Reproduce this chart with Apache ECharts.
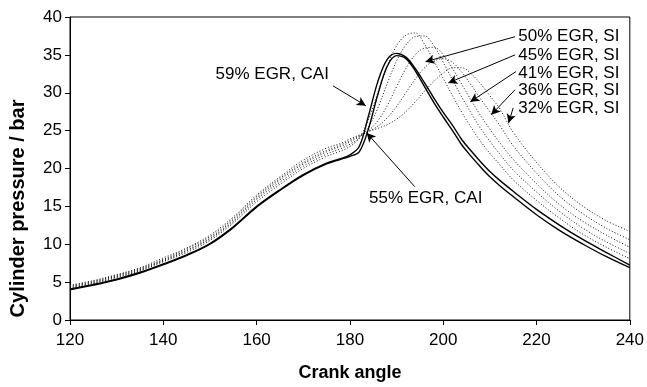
<!DOCTYPE html>
<html>
<head>
<meta charset="utf-8">
<script src="https://cdn.jsdelivr.net/npm/echarts@6/dist/echarts.min.js"></script>
<style>
  html, body { margin: 0; padding: 0; background: #fff; }
  #chart { width: 647px; height: 387px; }
</style>
</head>
<body>
<div id="chart"></div>
<script>
// crank angle (deg) shared by all curves
const angles = [120, 125, 130, 135, 140, 145, 150, 155, 160, 165, 170, 175, 178, 180,
  182, 184, 186, 188, 190, 192, 194, 196, 198, 200, 202, 204, 206, 208, 210, 212,
  215, 220, 225, 230, 235, 240];

// cylinder pressure (bar)
const cai59 = [4.1, 4.7, 5.4, 6.3, 7.4, 8.6, 10.1, 12.3, 15.0, 17.2, 19.2, 20.7, 21.3, 21.8,
  22.9, 27.0, 31.5, 34.4, 35.2, 34.7, 33.2, 31.3, 29.3, 27.4, 25.7, 23.8, 22.3, 20.9, 19.6, 18.5,
  17.0, 14.6, 12.5, 10.6, 8.9, 7.25];
const cai55 = [4.0, 4.6, 5.3, 6.2, 7.3, 8.5, 10.0, 12.2, 14.9, 17.1, 19.1, 20.6, 21.2, 21.6,
  22.2, 25.3, 29.8, 33.5, 34.9, 34.5, 32.9, 30.8, 28.7, 26.8, 25.0, 23.1, 21.6, 20.2, 18.9, 17.8,
  16.3, 13.9, 11.8, 10.0, 8.35, 6.9];
const si50 = [4.2, 4.8, 5.6, 6.5, 7.7, 8.9, 10.5, 12.8, 15.6, 17.9, 20.0, 21.6, 22.3, 22.9,
  24.0, 26.5, 30.0, 33.5, 36.2, 37.6, 37.9, 36.4, 34.2, 31.9, 29.6, 27.4, 25.4, 23.6, 22.0, 20.6,
  18.5, 15.8, 13.4, 11.3, 9.6, 8.1];
const si45 = [4.3, 4.9, 5.7, 6.6, 7.8, 9.1, 10.7, 13.0, 15.9, 18.2, 20.3, 21.9, 22.6, 23.2,
  24.0, 25.5, 28.0, 31.2, 34.2, 36.3, 37.4, 37.5, 36.2, 34.0, 31.7, 29.4, 27.3, 25.3, 23.6, 22.0,
  19.8, 16.9, 14.3, 12.1, 10.3, 8.8];
const si41 = [4.4, 5.0, 5.8, 6.7, 7.9, 9.2, 10.8, 13.2, 16.1, 18.5, 20.6, 22.2, 22.9, 23.5,
  24.2, 25.0, 26.3, 28.3, 30.8, 33.2, 35.0, 35.9, 36.0, 35.0, 33.2, 31.1, 29.0, 27.0, 25.2, 23.5,
  21.2, 18.0, 15.2, 13.0, 11.2, 9.6];
const si36 = [4.5, 5.1, 5.9, 6.8, 8.0, 9.4, 11.0, 13.4, 16.3, 18.7, 20.8, 22.4, 23.1, 23.7,
  24.3, 24.9, 25.6, 26.7, 28.2, 30.0, 31.8, 33.3, 34.2, 34.5, 34.0, 32.7, 31.0, 29.2, 27.5, 25.8,
  23.0, 19.4, 16.3, 14.0, 12.1, 10.6];
const si32 = [4.6, 5.2, 6.0, 6.9, 8.2, 9.5, 11.2, 13.6, 16.5, 18.9, 21.1, 22.7, 23.3, 23.9,
  24.4, 24.9, 25.3, 25.8, 26.5, 27.5, 28.8, 30.2, 31.5, 32.6, 33.3, 33.3, 32.5, 31.2, 29.6, 28.0,
  24.8, 20.8, 17.5, 15.0, 13.1, 11.7];

// axis ticks
const xTicks = { min: 120, max: 240, step: 20 };
const yTicks = { min: 0, max: 40, step: 5 };

// annotation labels: text, label anchor [angle, bar], arrow tail, arrow head
const noteTexts = ['59% EGR, CAI', '55% EGR, CAI', '50% EGR, SI', '45% EGR, SI', '41% EGR, SI', '36% EGR, SI', '32% EGR, SI'];
const noteAt = [[175.5, 32.4], [184.1, 16.0], [216.1, 37.4], [216.1, 35.0], [216.1, 32.6], [216.1, 30.3], [216.1, 27.9]];
const noteAlign = ['right', 'left', 'left', 'left', 'left', 'left', 'left'];
const arrowFrom = [[176.4, 30.9], [193.9, 17.6], [215.4, 37.4], [215.4, 35.0], [215.6, 32.8], [215.4, 30.4], [215.0, 28.0]];
const arrowTo = [[183.4, 28.3], [183.6, 24.7], [196.2, 34.1], [201.1, 31.3], [205.8, 28.8], [210.3, 27.1], [214.0, 26.0]];

const font = 'Liberation Sans, Arial, sans-serif';

function pairs(ys) {
  return angles.map((a, i) => [a, ys[i]]);
}

function curve(name, ys, dotted) {
  return {
    name: name,
    type: 'line',
    data: pairs(ys),
    smooth: 0.35,
    showSymbol: false,
    symbol: 'none',
    lineStyle: dotted
      ? { color: '#111', width: 1, type: [1, 2] }
      : { color: '#000', width: 1.4 }
  };
}

let chart = echarts.init(document.getElementById('chart'));
chart.setOption({
  animation: false,
  backgroundColor: '#fff',
  grid: {
    left: 70, right: 15, top: 17, bottom: 66,
    show: true, borderColor: '#000', borderWidth: 1
  },
  xAxis: {
    type: 'value',
    min: xTicks.min, max: xTicks.max, interval: xTicks.step,
    name: 'Crank angle',
    nameLocation: 'middle',
    nameGap: 44,
    nameTextStyle: { fontFamily: font, fontSize: 18, fontWeight: 'bold', color: '#000' },
    axisLine: { lineStyle: { color: '#000', width: 1 } },
    axisTick: { show: true, inside: false, length: 5, lineStyle: { color: '#000' } },
    axisLabel: { color: '#000', fontFamily: font, fontSize: 17, margin: 12 },
    splitLine: { show: false }
  },
  yAxis: {
    type: 'value',
    min: yTicks.min, max: yTicks.max, interval: yTicks.step,
    name: 'Cylinder pressure / bar',
    nameLocation: 'middle',
    nameGap: 42,
    nameTextStyle: { fontFamily: font, fontSize: 20, fontWeight: 'bold', color: '#000', padding: [0, 80, 0, 0] },
    axisLine: { show: true, lineStyle: { color: '#000', width: 1 } },
    axisTick: { show: true, inside: false, length: 5, lineStyle: { color: '#000' } },
    axisLabel: { color: '#000', fontFamily: font, fontSize: 17, margin: 8 },
    splitLine: { show: false }
  },
  series: [
    curve('32% EGR, SI', si32, true),
    curve('36% EGR, SI', si36, true),
    curve('41% EGR, SI', si41, true),
    curve('45% EGR, SI', si45, true),
    curve('50% EGR, SI', si50, true),
    curve('55% EGR, CAI', cai55, false),
    curve('59% EGR, CAI', cai59, false),
    {
      name: 'notes',
      type: 'line',
      data: [],
      silent: true,
      markLine: {
        silent: true,
        symbol: ['none', 'arrow'],
        symbolSize: [7, 9],
        label: { show: false },
        lineStyle: { color: '#000', width: 1, type: 'solid' },
        data: arrowFrom.map((p, i) => [{ coord: p }, { coord: arrowTo[i] }])
      },
      markPoint: {
        silent: true,
        symbol: 'rect',
        symbolSize: 0,
        data: noteTexts.map((t, i) => ({
          coord: noteAt[i],
          label: {
            show: true,
            position: 'inside',
            formatter: t,
            align: noteAlign[i],
            verticalAlign: 'middle',
            color: '#000',
            fontFamily: font,
            fontSize: 17
          }
        }))
      }
    }
  ]
});
</script>
</body>
</html>
